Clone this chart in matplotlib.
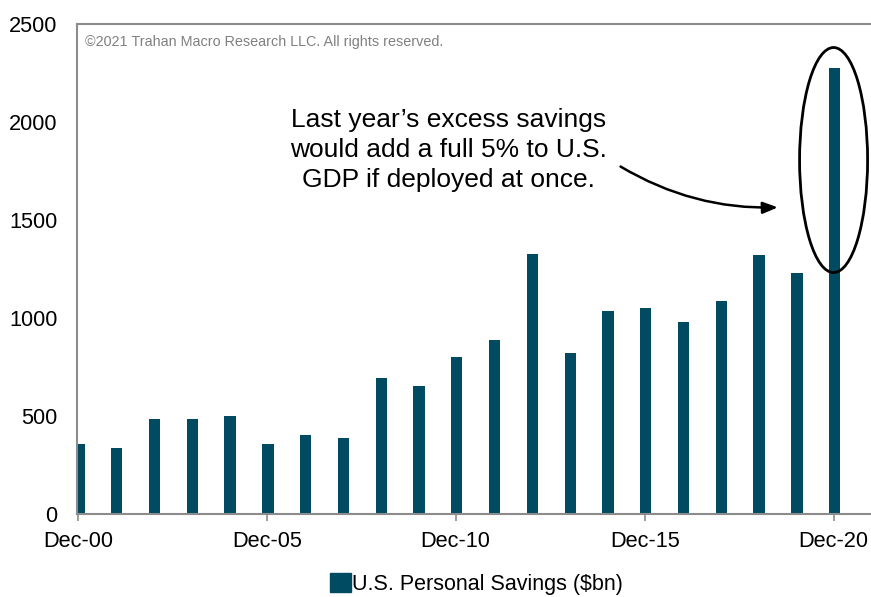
import matplotlib
matplotlib.use('Agg')
import matplotlib.pyplot as plt
from matplotlib.patches import Ellipse, Patch

plt.rcParams['font.family'] = ['Liberation Sans', 'DejaVu Sans']

# personal savings, one bar per December, $bn
years = ['Dec-%02d' % y for y in range(0, 21)]
savings = [359, 338, 486, 486, 498, 359, 403, 386, 692, 653, 801,
           886, 1328, 820, 1034, 1051, 978, 1088, 1320, 1228, 2274]
tick_years = ['Dec-00', 'Dec-05', 'Dec-10', 'Dec-15', 'Dec-20']
y_ticks = [0, 500, 1000, 1500, 2000, 2500]

BAR = '#004a62'
GREY = '#8c8c8c'

fig = plt.figure(figsize=(8.71, 5.97), dpi=100)
ax = fig.add_axes([0.0884, 0.139, 0.9116, 0.8208])

xpos = [i + 0.03 for i in range(len(years))]
ax.bar(xpos, savings, width=0.3, color=BAR, zorder=2)

ax.set_xlim(-0.02, 20.99)
ax.set_ylim(0, 2500)

ticks = [years.index(t) for t in tick_years]
ax.set_xticks(ticks)
ax.set_xticklabels(tick_years, fontsize=15.7)
ax.set_yticks(y_ticks)
ax.set_yticklabels([str(v) for v in y_ticks], fontsize=15.7)
ax.tick_params(axis='x', direction='out', length=5, width=1.2, color=GREY, pad=7)
ax.tick_params(axis='y', length=0, pad=14)

for s in ['left', 'bottom', 'top']:
    ax.spines[s].set_color(GREY)
    ax.spines[s].set_linewidth(1.5)
ax.spines['right'].set_visible(False)

ax.text(0.01, 0.978, '\u00a92021 Trahan Macro Research LLC. All rights reserved.',
        transform=ax.transAxes, fontsize=10.4, color='#808080', va='top', ha='left')

ax.text(9.8, 1858, 'Last year\u2019s excess savings\nwould add a full 5% to U.S.\nGDP if deployed at once.',
        fontsize=19, ha='center', va='center', linespacing=1.33)

ax.annotate('', xy=(18.6, 1565), xytext=(14.3, 1780),
            arrowprops=dict(arrowstyle='-|>,head_length=0.9,head_width=0.35', color='black',
                            lw=1.8, connectionstyle='arc3,rad=0.15'))

ax.add_patch(Ellipse((20.0, 1806), width=1.8, height=1148, fill=False,
                     edgecolor='black', lw=2, zorder=3, clip_on=False))

fig.legend(handles=[Patch(color=BAR, label='U.S. Personal Savings ($bn)')],
           loc='center', bbox_to_anchor=(0.547, 0.022), frameon=False, fontsize=15.5,
           handlelength=0.95, handleheight=0.95, handletextpad=0.05)

fig.savefig('out.png', dpi=100)
